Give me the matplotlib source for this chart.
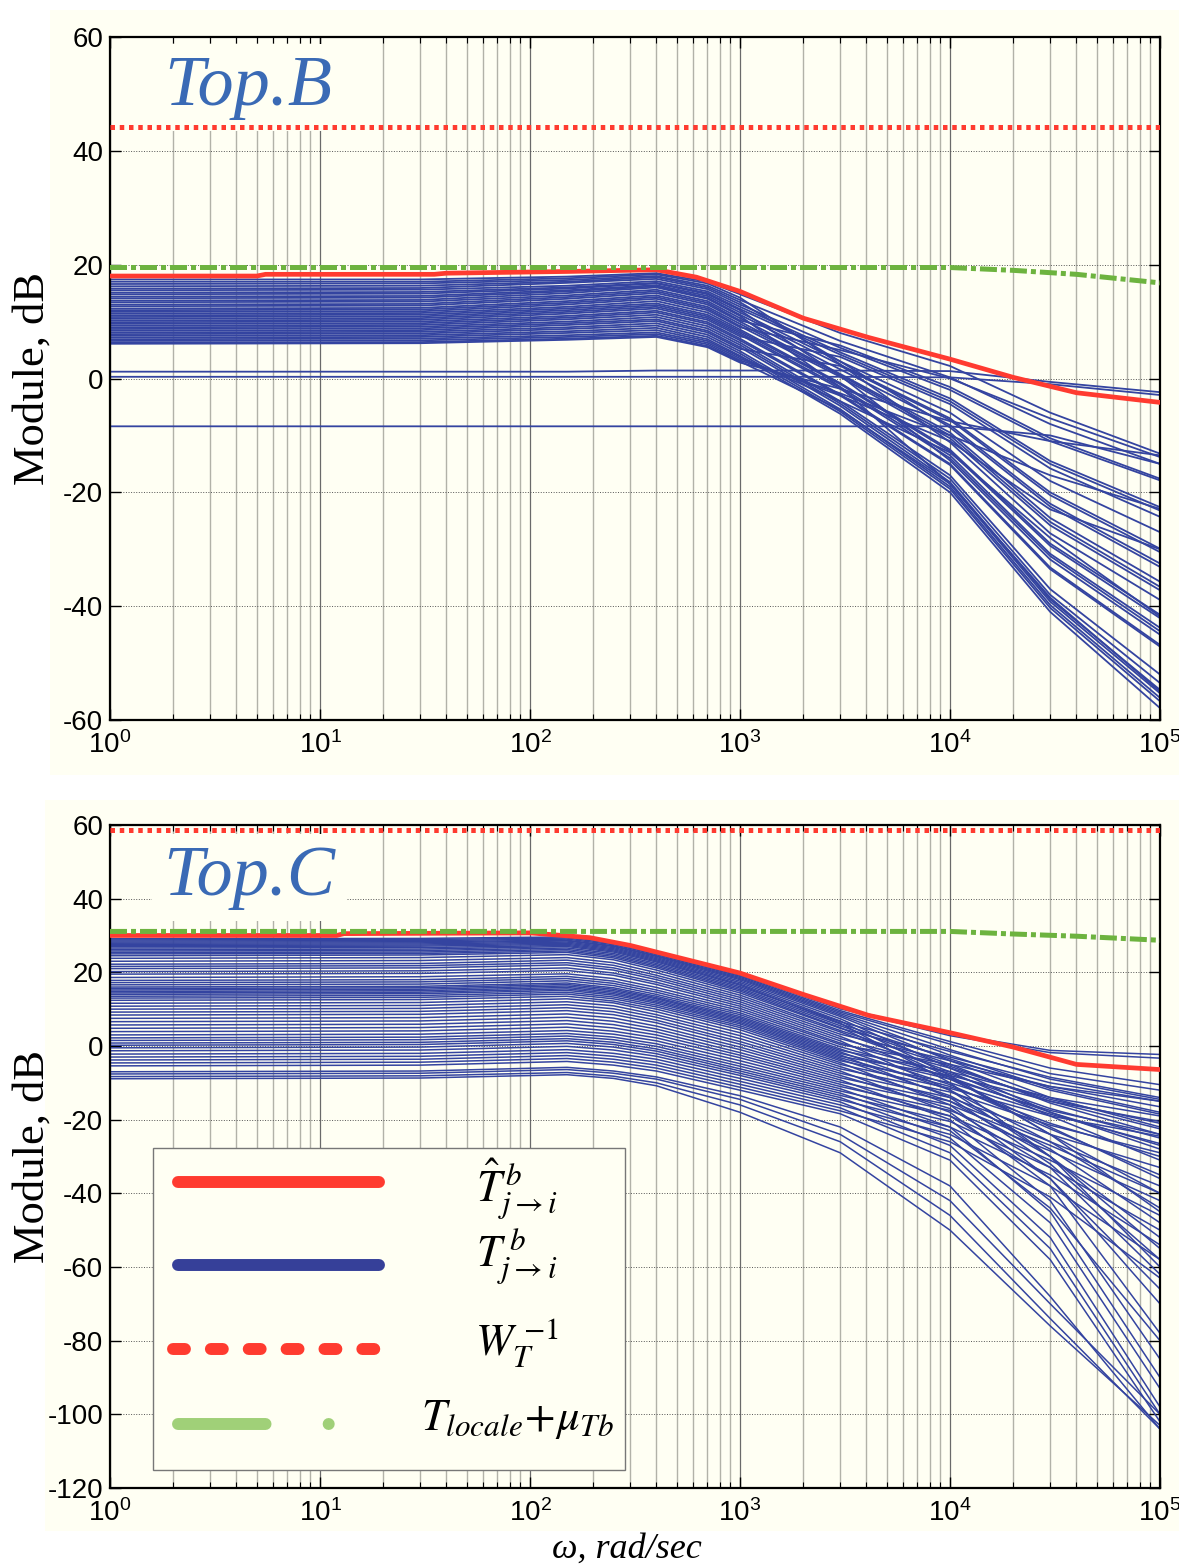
import numpy as np
import matplotlib
matplotlib.use('Agg')
import matplotlib.pyplot as plt
from matplotlib.patches import Rectangle
from matplotlib.ticker import LogLocator, NullFormatter

plt.rcParams['mathtext.fontset'] = 'stix'
plt.rcParams['axes.unicode_minus'] = False

CREAM = '#FFFFF3'
BLUE = '#3444A0'
RED = '#FF3B30'
GREEN = '#6DB33F'
TICK_FONT = ['Liberation Sans Narrow', 'Liberation Sans', 'DejaVu Sans']
SERIF = ['Liberation Serif', 'DejaVu Serif']

top_nodes = [1, 30, 150, 400, 700, 1e3, 3e3, 1e4, 3e4, 1e5]
bot_nodes = [1, 30, 150, 250, 400, 1e3, 3e3, 1e4, 3e4, 1e5]

# ---- Top.B : T_{j->i}^b curves, one value per curve at each node (dB)
top_w1 = [17.4, 17.0, 16.6, 16.2, 15.8, 15.5, 15.1, 14.8, 14.4, 14.1,
          13.7, 13.4, 13.0, 12.7, 12.3, 12.0, 11.7, 11.4, 11.1, 10.8,
          10.5, 10.2, 9.9, 9.6, 9.3, 9.0, 8.7, 8.4, 8.1, 7.8,
          7.5, 7.2, 6.9, 6.6, 6.3, 6.1, 1.2, 0.3, -8.4]
top_w30 = [17.4, 17.0, 16.7, 16.3, 15.9, 15.6, 15.2, 14.9, 14.5, 14.2,
           13.8, 13.5, 13.1, 12.8, 12.4, 12.1, 11.8, 11.5, 11.2, 10.9,
           10.6, 10.3, 10.0, 9.7, 9.4, 9.1, 8.8, 8.5, 8.2, 7.9,
           7.6, 7.3, 7.0, 6.7, 6.4, 6.2, 1.2, 0.3, -8.4]
top_w150 = [17.9, 17.6, 17.3, 17.0, 16.8, 16.3, 16.0, 15.8, 15.5, 15.3,
            15.0, 14.6, 14.3, 14.0, 13.6, 13.3, 13.0, 12.6, 12.3, 12.0,
            11.7, 11.4, 11.0, 10.7, 10.4, 10.0, 9.7, 9.4, 9.0, 8.7,
            8.3, 8.0, 7.6, 7.3, 7.0, 6.8, 1.2, 0.3, -8.4]
top_w400 = [18.5, 18.3, 18.0, 17.8, 17.5, 17.1, 16.8, 16.7, 16.4, 16.2,
            16.0, 15.6, 15.3, 15.0, 14.6, 14.3, 14.0, 13.6, 13.2, 12.9,
            12.6, 12.3, 11.9, 11.6, 11.2, 10.8, 10.4, 10.1, 9.7, 9.3,
            8.9, 8.5, 8.1, 7.8, 7.5, 7.3, 1.4, 0.3, -8.4]
top_w700 = [17.0, 16.7, 16.3, 16.0, 15.7, 15.3, 15.0, 14.8, 14.5, 14.2,
            14.0, 13.6, 13.3, 13.0, 12.6, 12.3, 12.0, 11.6, 11.2, 10.9,
            10.6, 10.3, 9.9, 9.6, 9.2, 8.8, 8.4, 8.1, 7.7, 7.3,
            6.9, 6.6, 6.3, 6.0, 5.7, 5.5, 1.4, 0.3, -8.4]
top_w1k = [14.8, 14.2, 13.8, 13.4, 13.0, 12.6, 12.2, 12.0, 11.6, 11.2,
           11.0, 10.6, 10.2, 10.0, 9.6, 9.2, 9.0, 8.6, 8.3, 8.0,
           7.7, 7.4, 7.0, 6.7, 6.3, 5.9, 5.5, 5.2, 4.8, 4.4,
           4.0, 3.8, 3.5, 3.2, 3.0, 2.8, 1.4, 0.3, -8.4]
top_w3k = [8.0, 2.5, 6.6, 3.0, 5.4, 4.6, 4.2, 0.5, 3.0, 2.4,
           -1.5, 1.6, 5.8, 0.8, 0.6, 0.3, 5.0, -0.8, -1.0, -1.5,
           -1.8, 3.8, -2.8, -3.0, -4.0, -4.4, -4.8, 2.2, -5.4, -5.8,
           -6.2, -4.0, -3.0, -2.6, -5.5, -1.8, 1.4, 0.3, -8.4]
top_w10k = [2.2, -11.2, 0.2, -8.6, -2.0, -3.5, -4.0, -14.4, -6.0, -7.0,
            -18.5, -8.2, -1.5, -9.5, -10.0, -10.5, 0.0, -12.5, -12.8, -13.5,
            -14.0, -4.5, -15.0, -15.2, -17.0, -17.6, -18.2, -7.3, -19.0, -19.4,
            -20.0, -13.0, -11.0, -10.0, -18.5, -7.5, 1.3, 0.2, -8.4]
top_w30k = [-6.0, -27.2, -8.0, -22.5, -11.0, -14.5, -15.0, -31.8, -18.0, -20.0,
            -39.2, -22.0, -10.5, -24.5, -25.2, -25.8, -7.0, -29.0, -29.4, -30.8,
            -31.2, -15.8, -33.2, -33.5, -37.0, -38.0, -38.8, -20.5, -39.8, -40.3,
            -41.0, -28.0, -23.0, -17.0, -38.5, -11.0, -0.6, -1.0, -10.0]
top_w100k = [-13.2, -38.9, -15.0, -33.1, -17.9, -22.6, -23.2, -45.0, -27.0, -29.9,
             -55.3, -32.5, -17.6, -35.7, -36.6, -37.2, -13.8, -41.5, -42.1, -43.8,
             -44.4, -24.3, -46.8, -47.1, -52.0, -53.5, -54.7, -30.5, -56.1, -56.7,
             -57.9, -41.8, -30.0, -22.9, -55.0, -13.5, -2.4, -2.9, -15.0]

# ---- Top.C : T_{j->i}^b curves
bot_w1 = [29.1, 28.8, 28.5, 28.2, 27.9, 27.6, 27.3, 27.0, 26.6, 26.2, 25.8, 25.4, 25.0, 24.5,
          23.8, 23.0, 22.2, 21.6, 21.0, 20.2, 19.5, 18.6,
          17.8, 17.2, 16.6, 16.0, 15.6, 15.2, 14.8, 14.4, 14.0, 13.5, 13.0, 12.4,
          11.6, 10.8, 10.0, 9.2, 8.4, 7.5, 6.6, 5.7, 4.8, 3.9,
          3.0, 2.2, 1.5, 0.8, 0.2, -0.5, -1.3, -2.2, -3.0, -3.8, -4.6, -5.4,
          -7.0, -7.6, -8.3, -8.9]
bot_w30 = [29.2, 28.9, 28.6, 28.3, 28.0, 27.7, 27.4, 27.1, 26.7, 26.3, 25.9, 25.5, 25.1, 24.7,
           24.0, 23.2, 22.4, 21.8, 21.2, 20.4, 19.7, 18.8,
           18.0, 17.4, 16.8, 16.2, 15.8, 15.4, 15.0, 14.6, 14.2, 13.7, 13.2, 12.6,
           11.8, 11.0, 10.2, 9.4, 8.6, 7.7, 6.8, 5.9, 5.0, 4.1,
           3.2, 2.4, 1.7, 1.0, 0.4, -0.3, -1.1, -2.0, -2.8, -3.6, -4.4, -5.2,
           -6.8, -7.4, -8.1, -8.7]
bot_w150 = [29.6, 29.3, 29.0, 28.7, 28.5, 28.2, 27.9, 27.6, 27.3, 27.0, 26.6, 26.2, 25.8, 25.4,
            24.8, 24.0, 23.3, 22.6, 22.0, 21.2, 20.5, 19.6,
            18.9, 18.3, 17.7, 17.1, 16.7, 16.3, 15.9, 15.5, 15.1, 14.6, 14.1, 13.5,
            12.8, 12.0, 11.2, 10.4, 9.6, 8.7, 7.8, 6.9, 6.0, 5.1,
            4.2, 3.4, 2.7, 2.0, 1.4, 0.7, -0.1, -1.0, -1.8, -2.6, -3.4, -4.2,
            -5.8, -6.4, -7.2, -7.8]
bot_w250 = [28.1, 27.8, 27.5, 27.2, 27.0, 26.7, 26.4, 26.1, 25.8, 25.5, 25.1, 24.7, 24.3, 23.9,
            23.4, 22.6, 21.9, 21.2, 20.6, 19.8, 19.2, 18.3,
            17.6, 17.0, 16.4, 15.8, 15.4, 15.0, 14.6, 14.2, 13.8, 13.3, 12.8, 12.2,
            11.7, 10.9, 10.1, 9.3, 8.5, 7.6, 6.7, 5.8, 4.9, 4.0,
            3.2, 2.4, 1.7, 1.0, 0.4, -0.3, -1.1, -2.0, -2.8, -3.6, -4.4, -5.2,
            -6.8, -7.4, -8.2, -8.8]
bot_w400 = [25.3, 25.1, 24.8, 24.5, 24.3, 24.0, 23.7, 23.4, 23.1, 22.8, 22.4, 22.0, 21.6, 21.2,
            20.6, 19.9, 19.2, 18.6, 18.0, 17.3, 16.7, 15.9,
            15.2, 14.6, 14.0, 13.5, 13.1, 12.8, 12.4, 12.0, 11.6, 11.1, 10.6, 10.0,
            9.3, 8.5, 7.8, 7.0, 6.3, 5.4, 4.6, 3.8, 3.0, 2.2,
            1.4, 0.6, -0.1, -0.8, -1.4, -2.1, -2.8, -3.6, -4.4, -5.2, -6.0, -6.8,
            -8.4, -9.0, -10.0, -10.8]
bot_w1k = [19.5, 19.2, 18.9, 18.6, 18.3, 18.0, 17.6, 17.2, 16.8, 16.5, 16.1, 15.7, 15.3, 14.9,
           14.4, 13.8, 13.2, 12.6, 12.0, 11.4, 10.8, 10.2,
           9.6, 9.0, 8.5, 8.0, 7.6, 7.2, 6.8, 6.4, 6.0, 5.5, 5.0, 4.4,
           3.6, 2.8, 2.0, 1.2, 0.5, -0.3, -1.0, -1.8, -2.5, -3.2,
           -4.0, -4.8, -5.5, -6.2, -6.8, -7.4, -8.0, -8.8, -9.6, -10.4, -11.2, -12.0,
           -13.5, -14.5, -16.0, -18.0]
bot_w3k = [10.5, 10.1, 9.6, 9.2, 8.8, 8.4, 8.0, 7.4, 6.8, 6.2, 6.6, 6.0, 5.5, 5.0,
           4.8, 4.2, 3.8, 3.2, 2.6, 2.0, 1.4, 0.8,
           0.4, -0.2, -0.8, -1.2, -1.6, -2.0, -2.4, -2.8, -3.2, -3.6, -4.0, -4.5,
           -5.0, -5.6, -6.2, -6.8, -7.4, -8.0, -8.6, -9.2, -9.8, -10.4,
           -11.0, -11.6, -12.2, -12.8, -13.4, -14.0, -14.6, -15.2, -16.0, -16.8, -17.6, -18.4,
           -22.0, -24.0, -26.0, -29.0]
bot_w10k = [3.3, 2.8, 1.2, 0.5, -1.0, -2.5, -4.0, -6.0, -8.0, -10.0, -1.5, -3.5, -5.0, -8.5,
            -3.0, -5.5, -7.0, -4.0, -9.0, -6.0, -12.0, -7.5,
            -5.0, -8.5, -10.5, -7.0, -12.0, -9.0, -14.0, -8.0, -11.0, -13.5, -10.0, -16.0,
            -11.5, -15.0, -12.5, -18.0, -14.0, -17.0, -15.0, -20.0, -16.0, -19.0,
            -17.5, -22.0, -19.0, -23.0, -20.5, -25.0, -22.0, -27.0, -24.0, -29.0, -26.0, -31.0,
            -38.0, -42.0, -46.0, -50.0]
bot_w30k = [-1.2, -1.8, -6.0, -7.5, -9.0, -11.5, -14.0, -18.0, -24.0, -30.0, -8.5, -12.0, -15.5, -24.0,
            -10.0, -15.0, -19.0, -11.0, -22.0, -14.5, -30.0, -17.0,
            -11.0, -18.0, -22.5, -14.0, -26.0, -17.5, -32.0, -15.0, -21.0, -28.0, -18.5, -36.0,
            -19.0, -30.0, -21.5, -38.0, -24.0, -33.0, -26.0, -42.0, -27.0, -36.0,
            -28.5, -45.0, -31.0, -44.0, -33.0, -48.0, -35.0, -52.0, -38.0, -55.0, -41.0, -58.0,
            -68.0, -70.0, -74.0, -76.0]
bot_w100k = [-2.3, -3.3, -10.5, -12.0, -14.5, -18.0, -22.0, -28.0, -40.0, -55.0, -14.0, -18.5, -24.0, -45.0,
             -15.0, -22.5, -31.0, -16.5, -36.0, -21.0, -60.0, -25.0,
             -15.0, -27.0, -35.0, -19.0, -44.0, -24.0, -58.0, -20.5, -30.0, -48.0, -26.5, -70.0,
             -24.5, -52.0, -29.0, -78.0, -33.0, -62.0, -38.0, -85.0, -40.0, -66.0,
             -42.0, -90.0, -46.0, -80.0, -50.0, -93.0, -54.0, -98.0, -58.0, -100.0, -63.0, -102.0,
             -104.0, -100.0, -104.0, -103.0]

# ---- bounds: hat T (red), T_locale + mu (green), W_T^-1 (red dots)
top_red_w = [1, 5, 5.5, 35, 40, 150, 400, 620, 1e3, 2e3, 4.1e3, 1e4, 2e4, 4e4, 1e5]
top_red_v = [18.0, 18.0, 18.3, 18.3, 18.5, 18.8, 19.1, 17.8, 15.3, 10.6, 7.2, 3.4, 0.2, -2.5, -4.2]
bot_red_w = [1, 12, 13, 100, 143, 193, 300, 400, 1e3, 2e3, 4.1e3, 1e4, 2e4, 4e4, 1e5]
bot_red_v = [30.0, 30.0, 30.5, 30.7, 30.0, 29.4, 27.3, 25.5, 19.8, 14.0, 8.3, 3.6, -0.3, -5.0, -6.4]
green_w = [1, 1e4, 2e4, 4e4, 1e5]
top_green_v = [19.5, 19.5, 19.0, 18.3, 16.8]
bot_green_v = [31.1, 31.1, 30.4, 29.8, 28.7]
wt_w = [1, 1e5]
top_wt_v = [44.2, 44.2]
bot_wt_v = [58.5, 58.5]

top_yticks = [-60, -40, -20, 0, 20, 40, 60]
bot_yticks = [-120, -100, -80, -60, -40, -20, 0, 20, 40, 60]
x_decades = [0, 1, 2, 3, 4, 5]

top_curves = np.column_stack([top_w1, top_w30, top_w150, top_w400, top_w700,
                              top_w1k, top_w3k, top_w10k, top_w30k, top_w100k])
bot_curves = np.column_stack([bot_w1, bot_w30, bot_w150, bot_w250, bot_w400,
                              bot_w1k, bot_w3k, bot_w10k, bot_w30k, bot_w100k])


def style_axes(ax, yticks):
    ax.set_xscale('log')
    ax.set_xlim(1, 1e5)
    ax.set_ylim(yticks[0], yticks[-1])
    ax.set_facecolor(CREAM)
    ax.set_yticks(yticks)
    ax.set_yticklabels([str(v) for v in yticks])
    ax.set_xticks([10.0 ** k for k in x_decades])
    ax.set_xticklabels([r'$\mathregular{10^{%d}}$' % k for k in x_decades])
    ax.xaxis.set_minor_locator(LogLocator(base=10, subs=range(2, 10), numticks=20))
    ax.xaxis.set_minor_formatter(NullFormatter())
    ax.tick_params(which='both', direction='in', top=True, right=True)
    ax.tick_params(which='major', length=8, width=1.0, labelsize=20)
    ax.tick_params(axis='x', which='major', pad=8)
    ax.tick_params(axis='y', which='major', pad=5)
    ax.tick_params(which='minor', length=4, width=0.8)
    ax.xaxis.grid(True, which='minor', color='#b2b2a8', lw=1.0)
    ax.xaxis.grid(True, which='major', color='#6a6a6a', lw=0.9)
    ax.yaxis.grid(True, which='major', color='#555555', lw=0.7, ls=':')
    for lab in ax.get_xticklabels() + ax.get_yticklabels():
        lab.set_fontfamily(TICK_FONT)
    for s in ax.spines.values():
        s.set_linewidth(1.6)


def draw_bounds(ax, red_w, red_v, green_v, wt_v):
    ax.plot(red_w, red_v, color=RED, lw=3.4, zorder=3)
    ax.plot(green_w, green_v, color=GREEN, lw=3.6, dashes=(3.4, 0.8, 1.0, 0.8), zorder=4)
    ax.plot(wt_w, wt_v, color=RED, lw=3.6, dashes=(0.9, 0.95), zorder=4)


fig = plt.figure(figsize=(11.79, 15.66), dpi=100)
fig.add_artist(Rectangle((0.0424, 0.5051), 0.9576, 0.4885, transform=fig.transFigure,
                         facecolor=CREAM, edgecolor='none', zorder=-10))
fig.add_artist(Rectangle((0.0382, 0.0224), 0.9618, 0.4668, transform=fig.transFigure,
                         facecolor=CREAM, edgecolor='none', zorder=-10))

ax1 = fig.add_axes([0.0933, 0.5402, 0.8906, 0.4362])
ax2 = fig.add_axes([0.0933, 0.0498, 0.8906, 0.4234])

for row in top_curves:
    ax1.plot(top_nodes, row, color=BLUE, lw=1.3, zorder=2)
draw_bounds(ax1, top_red_w, top_red_v, top_green_v, top_wt_v)

for row in bot_curves:
    ax2.plot(bot_nodes, row, color=BLUE, lw=1.1, zorder=2)
draw_bounds(ax2, bot_red_w, bot_red_v, bot_green_v, bot_wt_v)

style_axes(ax1, top_yticks)
style_axes(ax2, bot_yticks)

for ax in (ax1, ax2):
    ax.set_ylabel('Module, dB', fontsize=32, family=SERIF)
    ax.yaxis.set_label_coords(-0.055, 0.5)

ax2.set_xlabel('\u03c9, rad/sec', fontsize=26, family=SERIF, style='italic')
ax2.xaxis.set_label_coords(0.492, -0.068)

title_box = dict(boxstyle='square,pad=0.15', facecolor=CREAM, edgecolor='none')
ax1.text(0.052, 0.900, 'Top.B', transform=ax1.transAxes, fontsize=52, family=SERIF,
         style='italic', color='#3A6AB5', va='baseline', ha='left', bbox=title_box, zorder=1.8)
ax2.text(0.0505, 0.894, 'Top.C', transform=ax2.transAxes, fontsize=52, family=SERIF,
         style='italic', color='#3A6AB5', va='baseline', ha='left', bbox=title_box, zorder=1.8)

# legend, drawn by hand to match the boxed layout
ax2.add_patch(Rectangle((0.041, 0.027), 0.4495, 0.4858, transform=ax2.transAxes,
                        facecolor=CREAM, edgecolor='#777777', lw=1.0, zorder=6))
leg_kw = dict(transform=ax2.transAxes, lw=8.6, zorder=7)
ax2.plot([0.0648, 0.2562], [0.4615, 0.4615], color='#FF3B2F', solid_capstyle='round', **leg_kw)
ax2.plot([0.0648, 0.2562], [0.3363, 0.3363], color='#364099', solid_capstyle='round', **leg_kw)
ax2.plot([0.0600, 0.2562], [0.2097, 0.2097], color='#FF3B2F', dashes=(1.0, 2.17),
         dash_capstyle='round', **leg_kw)
ax2.plot([0.0645, 0.2562], [0.0965, 0.0965], color='#A0D078', dashes=(7.33, 5.28, 0.01, 10),
         dash_capstyle='round', **leg_kw)

leg_labels = [r'$\hat{T}^{\,b}_{j\rightarrow i}$',
              r'$T^{\,b}_{j\rightarrow i}$',
              r'$W_{T}^{\;\mathit{-1}}$',
              r'$T_{locale}\!+\!\mu_{Tb}$']
leg_y = [0.451, 0.348, 0.219, 0.1026]
for lab, y in zip(leg_labels, leg_y):
    ax2.text(0.3876, y, lab, transform=ax2.transAxes, fontsize=32,
             ha='center', va='center', zorder=8)

fig.savefig('out.png', dpi=100, facecolor='white')
